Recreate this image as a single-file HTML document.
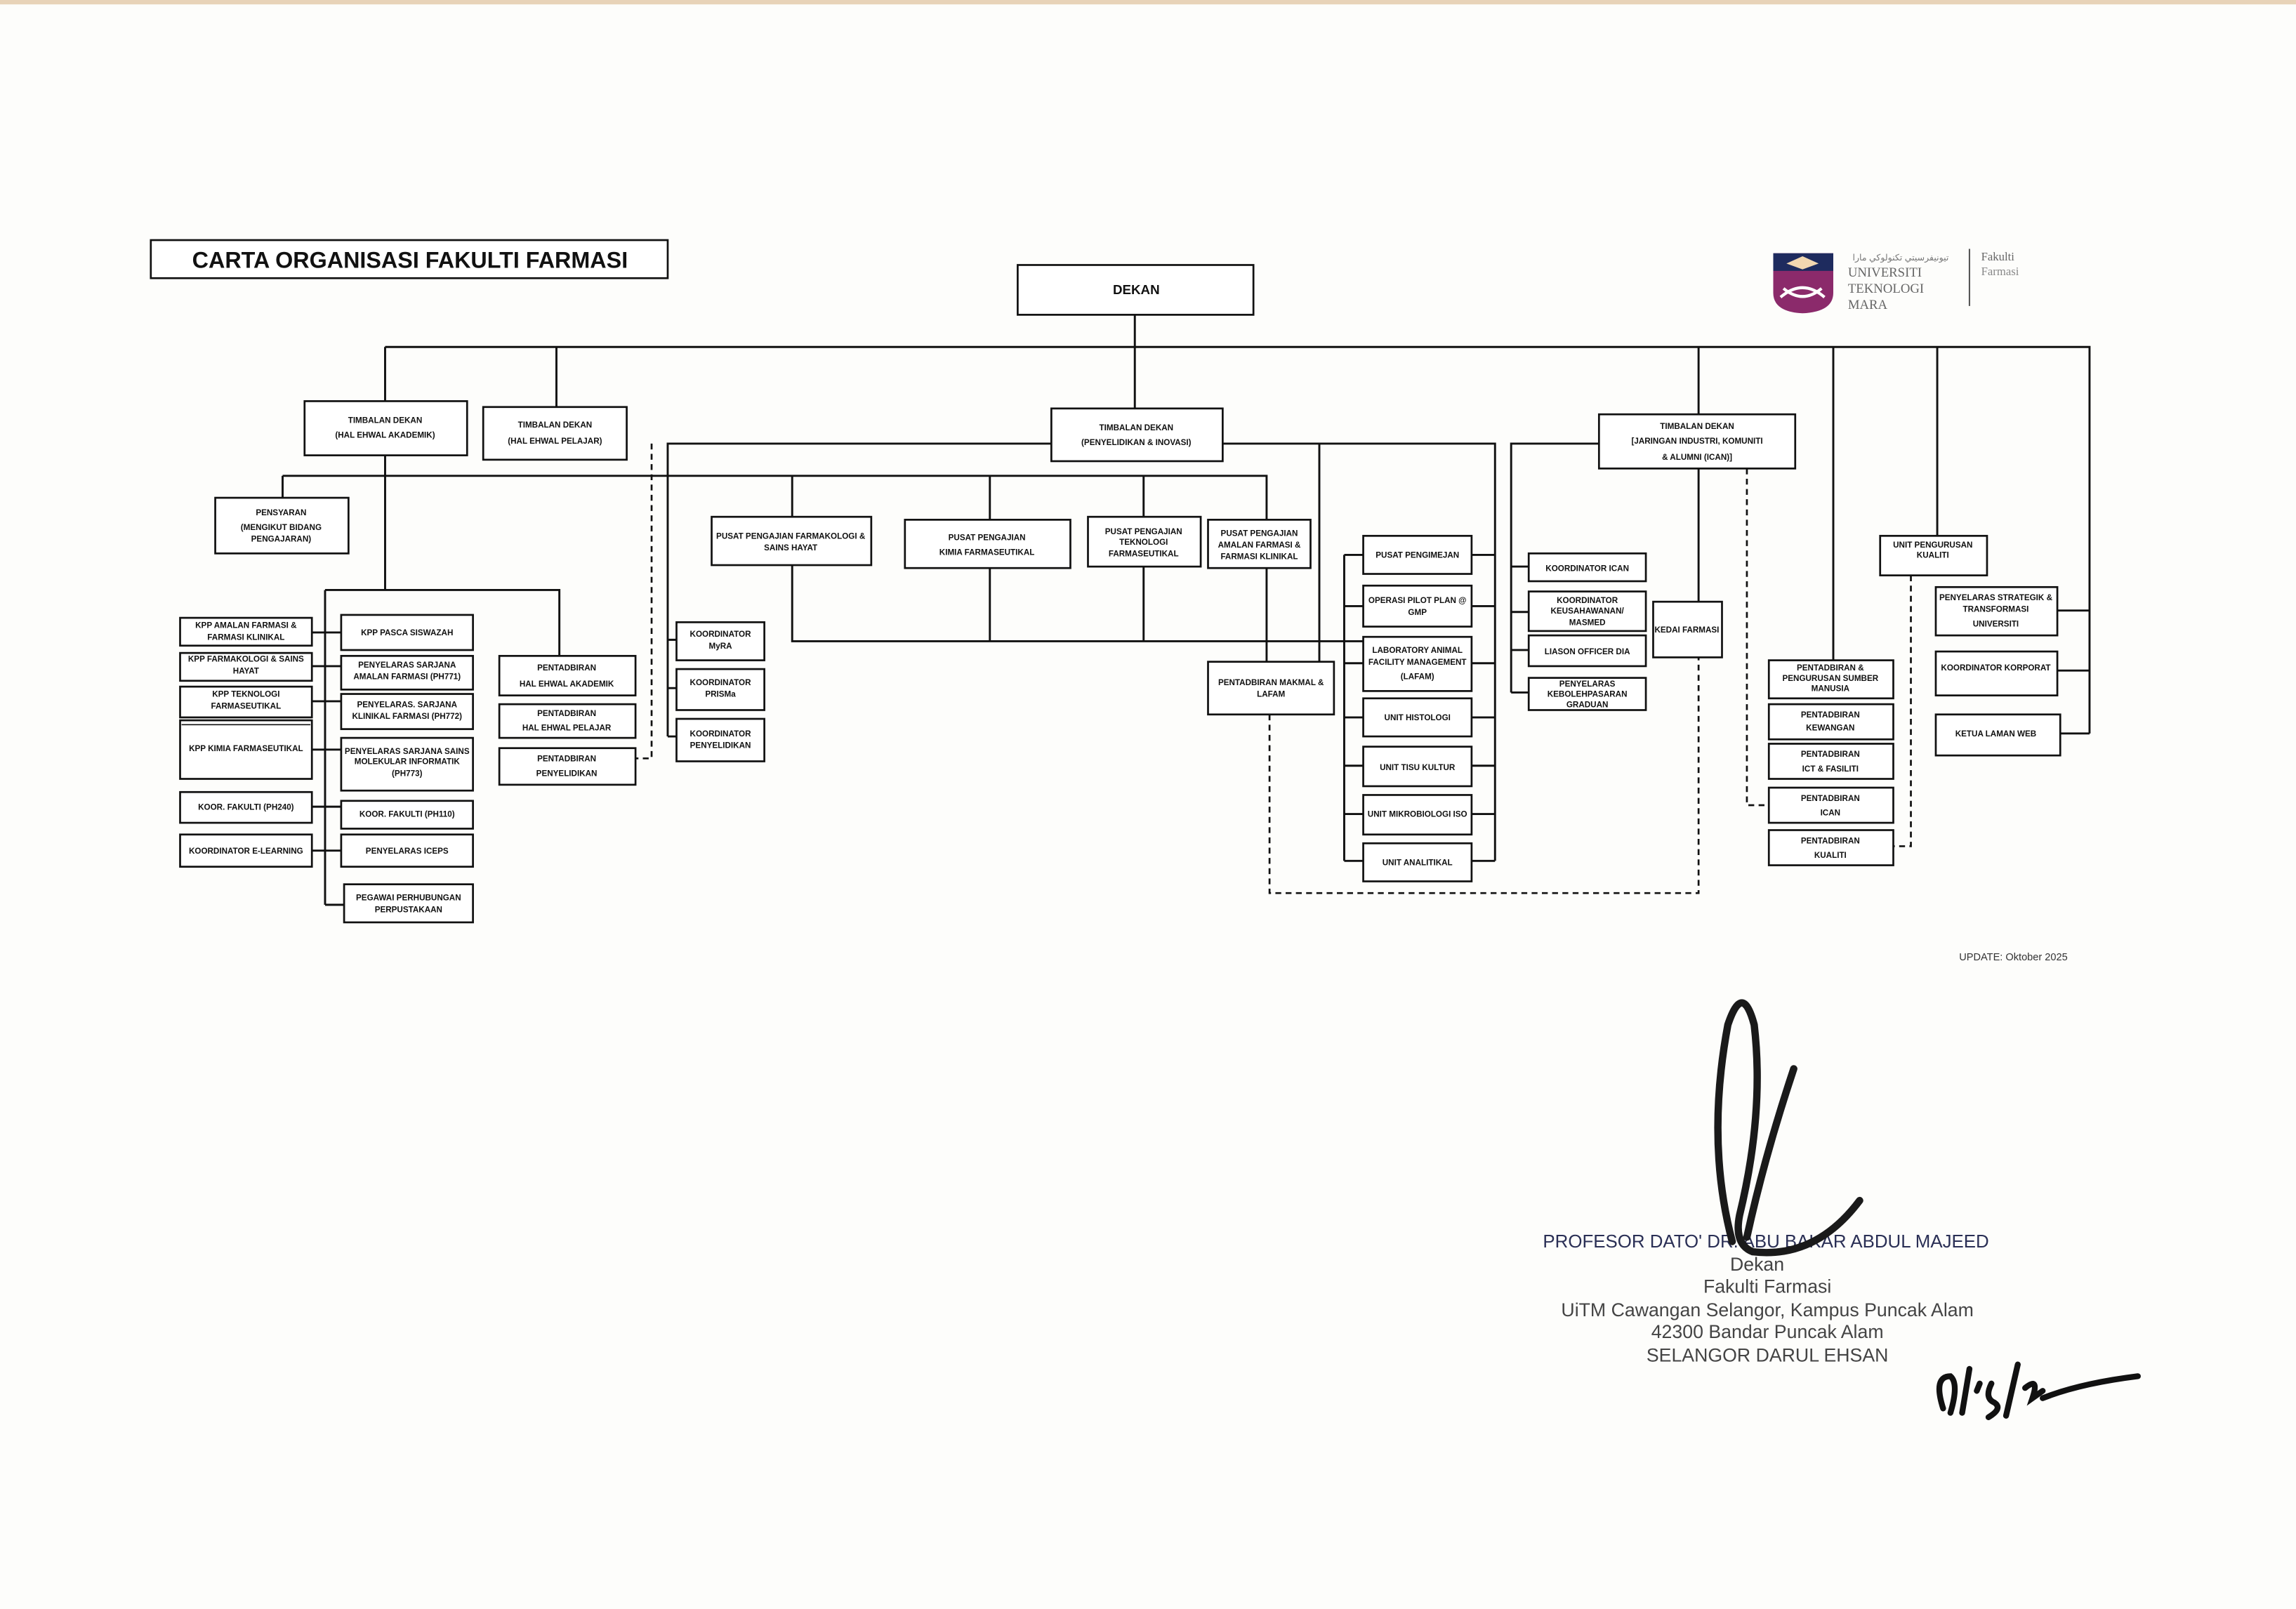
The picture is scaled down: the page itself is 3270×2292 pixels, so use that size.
<!DOCTYPE html>
<html><head><meta charset="utf-8"><style>
html,body{margin:0;padding:0;background:#fff;}
svg{display:block;}
.b{fill:#fff;stroke:#111;stroke-width:1.3;}
.l{stroke:#111;stroke-width:1.4;fill:none;}
.d{stroke:#111;stroke-width:1.3;fill:none;stroke-dasharray:4,3;}
text{font-family:"Liberation Sans Narrow","Liberation Sans",sans-serif;font-weight:bold;font-size:5.6px;fill:#111;text-anchor:middle;}
.s{font-family:"Liberation Sans",sans-serif;font-weight:normal;fill:#2a2f55;font-size:12.8px;}
</style></head><body>
<svg width="3270" height="2292" viewBox="0 0 1568 1099" preserveAspectRatio="none" xmlns="http://www.w3.org/2000/svg">
<rect x="0" y="0" width="1568" height="1099" fill="#fdfdfb"/>
<rect x="0" y="0" width="1568" height="3" fill="#e8d3b8"/>
<!-- title -->
<rect class="b" x="103" y="164" width="353" height="26"/>
<text x="280" y="183" style="font-size:15.5px;font-family:'Liberation Sans',sans-serif">CARTA ORGANISASI FAKULTI FARMASI</text>
<!-- logo -->
<path d="M1211,173 L1252,173 L1252,200 Q1252,213 1231,214 Q1211,213 1211,200 Z" fill="#8b2a6b"/>
<path d="M1211,173 L1252,173 L1252,185 L1211,185 Z" fill="#1e2b5e"/>
<path d="M1220,180 L1231,175 L1242,180 L1231,184 Z" fill="#f2d7b0"/>
<path d="M1216,203 Q1231,190 1246,203 M1218,197 Q1231,208 1244,197" stroke="#fff" stroke-width="2" fill="none"/>
<text x="1298" y="178" style="font-size:6px;font-weight:normal;fill:#777">ﺗﻴﻮﻧﻴﻔﺮﺳﻴﺘﻲ ﺗﻜﻨﻮﻟﻮﻛﻲ ﻣﺎرا</text>
<text x="1262" y="189" style="font-family:'Liberation Serif',serif;font-weight:normal;font-size:9px;fill:#666;text-anchor:start">UNIVERSITI</text>
<text x="1262" y="200" style="font-family:'Liberation Serif',serif;font-weight:normal;font-size:9px;fill:#666;text-anchor:start">TEKNOLOGI</text>
<text x="1262" y="211" style="font-family:'Liberation Serif',serif;font-weight:normal;font-size:9px;fill:#666;text-anchor:start">MARA</text>
<line x1="1345" y1="170" x2="1345" y2="209" stroke="#555" stroke-width="1"/>
<text x="1353" y="178" style="font-family:'Liberation Serif',serif;font-weight:normal;font-size:8px;fill:#666;text-anchor:start">Fakulti</text>
<text x="1353" y="188" style="font-family:'Liberation Serif',serif;font-weight:normal;font-size:8px;fill:#888;text-anchor:start">Farmasi</text>

<!-- main lines -->
<path class="l" d="M775,215V237 M263,237H1427V501 M263,237V274 M380,237V278 M775,237V279 M1160,237V283 M1252,237V451 M1323,237V366"/>
<path class="l" d="M1405,417H1427 M1405,458H1427 M1407,501H1427"/>
<!-- DEKAN -->
<rect class="b" x="695" y="181" width="161" height="34"/><text x="776" y="201" style="font-size:9px">DEKAN</text>

<!-- timbalan -->
<rect class="b" x="208" y="274" width="111" height="37"/><text x="263" y="289">TIMBALAN DEKAN</text><text x="263" y="299">(HAL EHWAL AKADEMIK)</text>
<rect class="b" x="330" y="278" width="98" height="36"/><text x="379" y="292">TIMBALAN DEKAN</text><text x="379" y="303">(HAL EHWAL PELAJAR)</text>
<rect class="b" x="718" y="279" width="117" height="36"/><text x="776" y="294">TIMBALAN DEKAN</text><text x="776" y="304">(PENYELIDIKAN &amp; INOVASI)</text>
<rect class="b" x="1092" y="283" width="134" height="37"/><text x="1159" y="293">TIMBALAN DEKAN</text><text x="1159" y="303">[JARINGAN INDUSTRI, KOMUNITI</text><text x="1159" y="314">&amp; ALUMNI (ICAN)]</text>

<!-- y=325 line and pusat -->
<path class="l" d="M193,325H865V355 M193,325V340 M541,325V353 M676,325V355 M781,325V353"/>
<rect class="b" x="147" y="340" width="91" height="38"/><text x="192" y="352">PENSYARAN</text><text x="192" y="362">(MENGIKUT BIDANG</text><text x="192" y="370">PENGAJARAN)</text>
<rect class="b" x="486" y="353" width="109" height="33"/><text x="540" y="368">PUSAT PENGAJIAN FARMAKOLOGI &amp;</text><text x="540" y="376">SAINS HAYAT</text>
<rect class="b" x="618" y="355" width="113" height="33"/><text x="674" y="369">PUSAT PENGAJIAN</text><text x="674" y="379">KIMIA FARMASEUTIKAL</text>
<rect class="b" x="743" y="353" width="77" height="34"/><text x="781" y="365">PUSAT PENGAJIAN</text><text x="781" y="372">TEKNOLOGI</text><text x="781" y="380">FARMASEUTIKAL</text>
<rect class="b" x="825" y="355" width="70" height="33"/><text x="860" y="366">PUSAT PENGAJIAN</text><text x="860" y="374">AMALAN FARMASI &amp;</text><text x="860" y="382">FARMASI KLINIKAL</text>
<path class="l" d="M541,386V438H931 M676,388V438 M781,387V438 M865,388V452"/>

<!-- penyelidikan side lines -->
<path class="l" d="M718,303H456V503 M456,437H462 M456,470H462 M456,503H462"/>
<path class="d" d="M445,303V518H433"/>
<path class="l" d="M835,303H1021V588 M901,303V452 M1005,379H1021 M1005,414H1021 M1005,453H1021 M1005,490H1021 M1005,523H1021 M1005,556H1021 M1005,588H1021"/>
<path class="l" d="M918,379V588 M918,379H931 M918,414H931 M918,453H931 M918,490H931 M918,523H931 M918,556H931 M918,588H931"/>
<rect class="b" x="462" y="425" width="60" height="26"/><text x="492" y="435">KOORDINATOR</text><text x="492" y="443">MyRA</text>
<rect class="b" x="462" y="457" width="60" height="28"/><text x="492" y="468">KOORDINATOR</text><text x="492" y="476">PRISMa</text>
<rect class="b" x="462" y="491" width="60" height="29"/><text x="492" y="503">KOORDINATOR</text><text x="492" y="511">PENYELIDIKAN</text>

<rect class="b" x="825" y="452" width="86" height="36"/><text x="868" y="468">PENTADBIRAN MAKMAL &amp;</text><text x="868" y="476">LAFAM</text>
<path class="d" d="M867,488V610H1160V449"/>

<rect class="b" x="931" y="366" width="74" height="26"/><text x="968" y="381">PUSAT PENGIMEJAN</text>
<rect class="b" x="931" y="400" width="74" height="28"/><text x="968" y="412">OPERASI PILOT PLAN @</text><text x="968" y="420">GMP</text>
<rect class="b" x="931" y="435" width="74" height="37"/><text x="968" y="446">LABORATORY ANIMAL</text><text x="968" y="454">FACILITY MANAGEMENT</text><text x="968" y="464">(LAFAM)</text>
<rect class="b" x="931" y="477" width="74" height="26"/><text x="968" y="492">UNIT HISTOLOGI</text>
<rect class="b" x="931" y="510" width="74" height="27"/><text x="968" y="526">UNIT TISU KULTUR</text>
<rect class="b" x="931" y="543" width="74" height="27"/><text x="968" y="558">UNIT MIKROBIOLOGI ISO</text>
<rect class="b" x="931" y="576" width="74" height="26"/><text x="968" y="591">UNIT ANALITIKAL</text>

<!-- ICAN -->
<path class="l" d="M1092,303H1032V473 M1032,387H1044 M1032,418H1044 M1032,444H1044 M1032,473H1044 M1160,320V411"/>
<rect class="b" x="1044" y="378" width="80" height="19"/><text x="1084" y="390">KOORDINATOR ICAN</text>
<rect class="b" x="1044" y="404" width="80" height="27"/><text x="1084" y="412">KOORDINATOR</text><text x="1084" y="419">KEUSAHAWANAN/</text><text x="1084" y="427">MASMED</text>
<rect class="b" x="1044" y="434" width="80" height="21"/><text x="1084" y="447">LIASON OFFICER DIA</text>
<rect class="b" x="1044" y="463" width="80" height="22"/><text x="1084" y="469">PENYELARAS</text><text x="1084" y="476">KEBOLEHPASARAN</text><text x="1084" y="483">GRADUAN</text>
<rect class="b" x="1129" y="411" width="47" height="38"/><text x="1152" y="432">KEDAI FARMASI</text>
<path class="d" d="M1193,320V550H1208"/>

<rect class="b" x="1208" y="451" width="85" height="26"/><text x="1250" y="458">PENTADBIRAN &amp;</text><text x="1250" y="465">PENGURUSAN SUMBER</text><text x="1250" y="472">MANUSIA</text>
<rect class="b" x="1208" y="481" width="85" height="24"/><text x="1250" y="490">PENTADBIRAN</text><text x="1250" y="499">KEWANGAN</text>
<rect class="b" x="1208" y="508" width="85" height="24"/><text x="1250" y="517">PENTADBIRAN</text><text x="1250" y="527">ICT &amp; FASILITI</text>
<rect class="b" x="1208" y="538" width="85" height="24"/><text x="1250" y="547">PENTADBIRAN</text><text x="1250" y="557">ICAN</text>
<rect class="b" x="1208" y="567" width="85" height="24"/><text x="1250" y="576">PENTADBIRAN</text><text x="1250" y="586">KUALITI</text>
<rect class="b" x="1284" y="366" width="73" height="27"/><text x="1320" y="374">UNIT PENGURUSAN</text><text x="1320" y="381">KUALITI</text>
<path class="d" d="M1305,393V578H1293"/>
<rect class="b" x="1322" y="401" width="83" height="33"/><text x="1363" y="410">PENYELARAS STRATEGIK &amp;</text><text x="1363" y="418">TRANSFORMASI</text><text x="1363" y="428">UNIVERSITI</text>
<rect class="b" x="1322" y="445" width="83" height="30"/><text x="1363" y="458">KOORDINATOR KORPORAT</text>
<rect class="b" x="1322" y="488" width="85" height="28"/><text x="1363" y="503">KETUA LAMAN WEB</text>

<!-- left section -->
<path class="l" d="M263,311V403 M222,403H382V448 M222,403V618 M222,432H233 M213,432H222 M213,455H233 M213,479H233 M213,512H233 M213,551H233 M213,581H233 M222,618H235"/>
<rect class="b" x="123" y="422" width="90" height="19"/><text x="168" y="429">KPP AMALAN FARMASI &amp;</text><text x="168" y="437">FARMASI KLINIKAL</text>
<rect class="b" x="123" y="446" width="90" height="19"/><text x="168" y="452">KPP  FARMAKOLOGI &amp; SAINS</text><text x="168" y="460">HAYAT</text>
<rect class="b" x="123" y="469" width="90" height="21"/><text x="168" y="476">KPP  TEKNOLOGI</text><text x="168" y="484">FARMASEUTIKAL</text>
<rect class="b" x="123" y="492" width="90" height="40"/><line x1="124" y1="495" x2="212" y2="495" stroke="#111" stroke-width="0.8"/><text x="168" y="513">KPP  KIMIA FARMASEUTIKAL</text>
<rect class="b" x="123" y="541" width="90" height="21"/><text x="168" y="553">KOOR. FAKULTI (PH240)</text>
<rect class="b" x="123" y="570" width="90" height="22"/><text x="168" y="583">KOORDINATOR E-LEARNING</text>
<rect class="b" x="233" y="420" width="90" height="24"/><text x="278" y="434">KPP PASCA SISWAZAH</text>
<rect class="b" x="233" y="448" width="90" height="23"/><text x="278" y="456">PENYELARAS SARJANA</text><text x="278" y="464">AMALAN FARMASI (PH771)</text>
<rect class="b" x="233" y="474" width="90" height="24"/><text x="278" y="483">PENYELARAS. SARJANA</text><text x="278" y="491">KLINIKAL FARMASI (PH772)</text>
<rect class="b" x="233" y="504" width="90" height="36"/><text x="278" y="515">PENYELARAS SARJANA SAINS</text><text x="278" y="522">MOLEKULAR INFORMATIK</text><text x="278" y="530">(PH773)</text>
<rect class="b" x="233" y="547" width="90" height="19"/><text x="278" y="558">KOOR. FAKULTI (PH110)</text>
<rect class="b" x="233" y="570" width="90" height="22"/><text x="278" y="583">PENYELARAS ICEPS</text>
<rect class="b" x="235" y="604" width="88" height="26"/><text x="279" y="615">PEGAWAI PERHUBUNGAN</text><text x="279" y="623">PERPUSTAKAAN</text>
<rect class="b" x="341" y="448" width="93" height="27"/><text x="387" y="458">PENTADBIRAN</text><text x="387" y="469">HAL EHWAL AKADEMIK</text>
<rect class="b" x="341" y="481" width="93" height="23"/><text x="387" y="489">PENTADBIRAN</text><text x="387" y="499">HAL EHWAL PELAJAR</text>
<rect class="b" x="341" y="511" width="93" height="25"/><text x="387" y="520">PENTADBIRAN</text><text x="387" y="530">PENYELIDIKAN</text>

<text x="1375" y="656" style="font-size:7px;font-weight:normal;font-family:'Liberation Sans',sans-serif;fill:#333">UPDATE: Oktober 2025</text>

<!-- signature block -->
<text class="s" x="1206" y="852" style="font-size:12.4px">PROFESOR DATO' DR. ABU BAKAR ABDUL MAJEED</text>
<text class="s" x="1200" y="868" style="fill:#444">Dekan</text>
<text class="s" x="1207" y="883" style="fill:#444">Fakulti Farmasi</text>
<text class="s" x="1207" y="899" style="fill:#444">UiTM Cawangan Selangor, Kampus Puncak Alam</text>
<text class="s" x="1207" y="914" style="fill:#444">42300 Bandar Puncak Alam</text>
<text class="s" x="1207" y="930" style="fill:#444">SELANGOR DARUL EHSAN</text>
<path d="M1183,848 Q1165,780 1180,700 Q1190,670 1198,700 Q1205,760 1188,830 Q1184,850 1197,855 Q1240,860 1270,820 M1193,845 Q1205,790 1225,730" stroke="#1a1a1a" stroke-width="5" fill="none" stroke-linecap="round"/>
<path d="M1327,962 Q1320,940 1332,940 Q1338,945 1332,965 M1345,935 L1340,965 M1352,945 L1350,950 M1360,945 Q1355,955 1362,958 Q1368,962 1358,968 M1378,932 L1370,967 M1383,948 Q1393,940 1388,955 L1395,950 M1395,955 Q1420,945 1460,940" stroke="#111" stroke-width="4" fill="none" stroke-linecap="round"/>
</svg>
</body></html>
